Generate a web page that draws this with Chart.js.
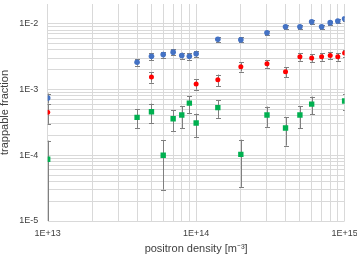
<!DOCTYPE html>
<html>
<head>
<meta charset="utf-8">
<script src="https://cdn.jsdelivr.net/npm/chart.js@4/dist/chart.umd.min.js"></script>
<style>
  html, body { margin: 0; padding: 0; background: #fff; }
  #wrap { width: 357px; height: 256px; }
</style>
</head>
<body>
<div id="wrap"><canvas id="chart" width="357" height="256"></canvas></div>
<script>
// positron density [m^-3]
const densities = [1e13, 4e13, 5e13, 6e13, 7e13, 8e13, 9e13, 1e14, 1.4e14, 2e14, 3e14, 4e14, 5e14, 6e14, 7e14, 8e14, 9e14, 1e15];

// trappable fraction, three series (null = no point)
const blueVals = [7.4e-4, 2.6e-3, 3.2e-3, 3.4e-3, 3.7e-3, 3.3e-3, 3.2e-3, 3.5e-3, 5.8e-3, 5.7e-3, 7.3e-3, 9.0e-3, 9.0e-3, 10.7e-3, 9.0e-3, 10.4e-3, 11.0e-3, 11.9e-3];
const blueErr  = [1.3e-4, 0.3e-3, 0.4e-3, 0.35e-3, 0.4e-3, 0.35e-3, 0.35e-3, 0.4e-3, 0.5e-3, 0.5e-3, 0.6e-3, 0.7e-3, 0.7e-3, 0.8e-3, 0.7e-3, 0.8e-3, 0.8e-3, 0.9e-3];

const redVals = [4.5e-4, null, 1.55e-3, null, null, null, null, 1.21e-3, 1.41e-3, 2.23e-3, 2.47e-3, 1.86e-3, 3.14e-3, 3.03e-3, 3.14e-3, 3.28e-3, 3.14e-3, 3.6e-3];
const redErr  = [1.5e-4, null, 0.28e-3, null, null, null, null, 0.22e-3, 0.28e-3, 0.35e-3, 0.32e-3, 0.33e-3, 0.4e-3, 0.4e-3, 0.4e-3, 0.4e-3, 0.4e-3, 0.45e-3];

const greenVals = [8.7e-5, 3.77e-4, 4.6e-4, 1.0e-4, 3.6e-4, 4.1e-4, 6.2e-4, 3.1e-4, 5.3e-4, 1.03e-4, 4.1e-4, 2.6e-4, 4.1e-4, 6.0e-4, null, null, null, 6.7e-4];
const greenErr  = [8e-5, 1.2e-4, 1.5e-4, 0.7e-4, 1.3e-4, 1.5e-4, 1.8e-4, 1.2e-4, 1.6e-4, 0.7e-4, 1.4e-4, 1.2e-4, 1.5e-4, 1.8e-4, null, null, null, 1.8e-4];

// tick positions (all log gridlines), labels only on decades
const xTicks = [];
for (let e = 13; e < 15; e++) for (let m = 1; m <= 9; m++) xTicks.push(m * Math.pow(10, e));
xTicks.push(1e15);
const yTicks = [];
for (let e = -5; e < -2; e++) for (let m = 1; m <= 9; m++) yTicks.push(m * Math.pow(10, e));
yTicks.push(1e-2);

function pts(vals, errs) {
  const out = [];
  densities.forEach((d, i) => {
    if (vals[i] != null) out.push({ x: d, y: vals[i], err: errs[i] });
  });
  return out;
}

function decadeExp(v) {
  const e = Math.log10(v);
  return Math.abs(e - Math.round(e)) < 1e-6 ? Math.round(e) : null;
}

// vertical error bars with caps, drawn behind markers
const errorBars = {
  id: 'errorBars',
  beforeDatasetsDraw(chart) {
    const ctx = chart.ctx;
    const xs = chart.scales.x, ys = chart.scales.y;
    const area = chart.chartArea;
    ctx.save();
    ctx.beginPath();
    ctx.rect(area.left, area.top, area.right - area.left, area.bottom - area.top);
    ctx.clip();
    ctx.strokeStyle = '#7f7f7f';
    ctx.lineWidth = 1;
    chart.data.datasets.forEach(ds => {
      ds.data.forEach(p => {
        if (p.err == null) return;
        const px = Math.round(xs.getPixelForValue(p.x)) + 0.5;
        const hi = ys.getPixelForValue(p.y + p.err);
        const lo = p.y - p.err > 0 ? ys.getPixelForValue(p.y - p.err) : area.bottom + 5;
        ctx.beginPath();
        ctx.moveTo(px, hi);
        ctx.lineTo(px, lo);
        ctx.moveTo(px - 2.5, Math.round(hi) + 0.5);
        ctx.lineTo(px + 2.5, Math.round(hi) + 0.5);
        if (p.y - p.err > 0) {
          ctx.moveTo(px - 2.5, Math.round(lo) + 0.5);
          ctx.lineTo(px + 2.5, Math.round(lo) + 0.5);
        }
        ctx.stroke();
      });
    });
    ctx.restore();
  }
};

Chart.defaults.font.family = "'Liberation Sans', Arial, sans-serif";
Chart.defaults.color = '#404040';

const ctx = document.getElementById('chart');
window.myChart = new Chart(ctx, {
  type: 'scatter',
  data: {
    datasets: [
      { label: 'series 1', data: pts(blueVals, blueErr), pointStyle: 'circle', pointRadius: 2.8, backgroundColor: '#4472c4', borderColor: '#4472c4', borderWidth: 0 },
      { label: 'series 2', data: pts(redVals, redErr), pointStyle: 'circle', pointRadius: 2.5, backgroundColor: '#ff0000', borderColor: '#ff0000', borderWidth: 0 },
      { label: 'series 3', data: pts(greenVals, greenErr), pointStyle: 'rect', pointRadius: 3.8, backgroundColor: '#00b050', borderColor: '#00b050', borderWidth: 0 },
    ],
  },
  options: {
    responsive: false,
    animation: false,
    layout: { padding: { left: 0, right: 12.4, top: 0, bottom: 0 } },
    plugins: {
      legend: { display: false },
      tooltip: { enabled: false },
    },
    scales: {
      x: {
        type: 'logarithmic',
        min: 1e13,
        max: 1e15,
        afterBuildTicks: s => { s.ticks = xTicks.map(v => ({ value: v })); },
        afterFit: s => { s.height = 35; s.paddingLeft = 0; s.paddingRight = 0; },
        grid: { color: '#d9d9d9', lineWidth: 1, drawTicks: false },
        border: { display: false },
        ticks: {
          autoSkip: false,
          maxRotation: 0,
          padding: 7.6,
          font: { size: 9 },
          callback: v => { const e = decadeExp(v); return e == null ? '' : '1E+' + e; },
        },
        title: { display: true, text: 'positron density [m\u207B\u00B3]', font: { size: 11 }, padding: { top: 3, bottom: 0 } },
      },
      y: {
        type: 'logarithmic',
        min: 1e-5,
        max: 2e-2,
        afterBuildTicks: s => { s.ticks = yTicks.map(v => ({ value: v })); },
        afterFit: s => { s.width = 47.7; s.paddingTop = 0; s.paddingBottom = 0; },
        grid: { color: '#d9d9d9', lineWidth: 1, drawTicks: false },
        border: { display: false },
        ticks: {
          autoSkip: false,
          padding: 9.5,
          font: { size: 9 },
          callback: v => { const e = decadeExp(v); return e == null ? '' : '1E' + e; },
        },
        title: { display: true, text: 'trappable fraction', font: { size: 11 }, padding: { top: -2, bottom: 0 } },
      },
    },
  },
  plugins: [errorBars],
});
</script>
</body>
</html>
